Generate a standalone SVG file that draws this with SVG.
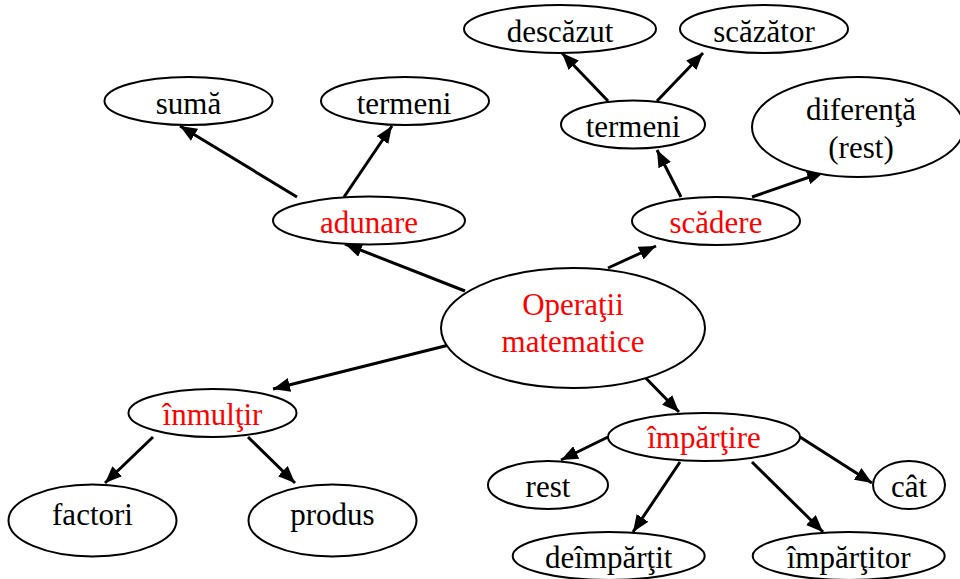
<svg xmlns="http://www.w3.org/2000/svg" width="960" height="579" viewBox="0 0 960 579">
<defs>
  <marker id="arr" markerUnits="userSpaceOnUse" markerWidth="18" markerHeight="14" refX="17" refY="7" orient="auto">
    <path d="M0,0 L17,7 L0,14 z" fill="#000"/>
  </marker>
</defs>
<rect width="960" height="579" fill="#fff"/>
<g id="edges" stroke="#000" stroke-width="3" marker-end="url(#arr)">
  <line x1="465" y1="291" x2="345" y2="244"/>
  <line x1="297" y1="197" x2="180" y2="126"/>
  <line x1="344" y1="197" x2="392" y2="126"/>
  <line x1="608" y1="268" x2="656" y2="246"/>
  <line x1="681" y1="197" x2="657" y2="150"/>
  <line x1="752" y1="197" x2="824" y2="172"/>
  <line x1="608" y1="101" x2="562" y2="53"/>
  <line x1="657" y1="101" x2="703" y2="53"/>
  <line x1="465" y1="341" x2="273" y2="389"/>
  <line x1="153" y1="437" x2="105" y2="483"/>
  <line x1="248" y1="437" x2="295" y2="483"/>
  <line x1="632" y1="364" x2="679" y2="412"/>
  <line x1="608" y1="437" x2="561" y2="460"/>
  <line x1="800" y1="437" x2="872" y2="483"/>
  <line x1="680" y1="462" x2="633" y2="532"/>
  <line x1="752" y1="462" x2="823" y2="532"/>
</g>
<g id="nodes" font-family="Liberation Serif, Times New Roman, serif" font-size="31" text-anchor="middle">
<g id="operatii" fill="#ff0000">
  <ellipse cx="573" cy="328" rx="132" ry="60" fill="#fff" stroke="#000" stroke-width="2"/>
  <text x="573" y="315">Operaţii</text>
  <text x="573" y="352">matematice</text>
</g>
<g id="adunare" fill="#ff0000">
  <ellipse cx="369" cy="220.5" rx="96" ry="24" fill="#fff" stroke="#000" stroke-width="2"/>
  <text x="369" y="233">adunare</text>
</g>
<g id="suma">
  <ellipse cx="188.5" cy="101" rx="84" ry="24" fill="#fff" stroke="#000" stroke-width="2"/>
  <text x="188.5" y="114">sumă</text>
</g>
<g id="termeni1">
  <ellipse cx="405" cy="101" rx="84" ry="24" fill="#fff" stroke="#000" stroke-width="2"/>
  <text x="404" y="114">termeni</text>
</g>
<g id="scadere" fill="#ff0000">
  <ellipse cx="716" cy="221" rx="84" ry="24" fill="#fff" stroke="#000" stroke-width="2"/>
  <text x="716" y="233">scădere</text>
</g>
<g id="termeni2">
  <ellipse cx="633" cy="124.5" rx="72" ry="24" fill="#fff" stroke="#000" stroke-width="2"/>
  <text x="633" y="137">termeni</text>
</g>
<g id="descazut">
  <ellipse cx="560" cy="29" rx="96" ry="24" fill="#fff" stroke="#000" stroke-width="2"/>
  <text x="560" y="42">descăzut</text>
</g>
<g id="scazator">
  <ellipse cx="764" cy="29" rx="84" ry="24" fill="#fff" stroke="#000" stroke-width="2"/>
  <text x="764" y="42">scăzător</text>
</g>
<g id="diferenta">
  <ellipse cx="858" cy="127" rx="106" ry="50" fill="#fff" stroke="#000" stroke-width="2"/>
  <text x="861" y="120">diferenţă</text>
  <text x="861" y="158">(rest)</text>
</g>
<g id="inmultir" fill="#ff0000">
  <ellipse cx="212.5" cy="413" rx="84" ry="24" fill="#fff" stroke="#000" stroke-width="2"/>
  <text x="212.5" y="425">înmulţir</text>
</g>
<g id="factori">
  <ellipse cx="92.5" cy="520.5" rx="84" ry="36" fill="#fff" stroke="#000" stroke-width="2"/>
  <text x="92.5" y="525">factori</text>
</g>
<g id="produs">
  <ellipse cx="332.5" cy="520.5" rx="84" ry="36" fill="#fff" stroke="#000" stroke-width="2"/>
  <text x="332.5" y="525">produs</text>
</g>
<g id="impartire" fill="#ff0000">
  <ellipse cx="704" cy="437" rx="96" ry="24" fill="#fff" stroke="#000" stroke-width="2"/>
  <text x="704" y="448">împărţire</text>
</g>
<g id="rest">
  <ellipse cx="548" cy="485" rx="60" ry="24" fill="#fff" stroke="#000" stroke-width="2"/>
  <text x="548" y="497">rest</text>
</g>
<g id="cat">
  <ellipse cx="909" cy="485" rx="36" ry="24" fill="#fff" stroke="#000" stroke-width="2"/>
  <text x="909" y="497">cât</text>
</g>
<g id="deimpartit">
  <ellipse cx="608.7" cy="556" rx="96" ry="24" fill="#fff" stroke="#000" stroke-width="2"/>
  <text x="608.7" y="568">deîmpărţit</text>
</g>
<g id="impartitor">
  <ellipse cx="848.7" cy="556" rx="96" ry="24" fill="#fff" stroke="#000" stroke-width="2"/>
  <text x="848.7" y="568">împărţitor</text>
</g>
</g>
</svg>
